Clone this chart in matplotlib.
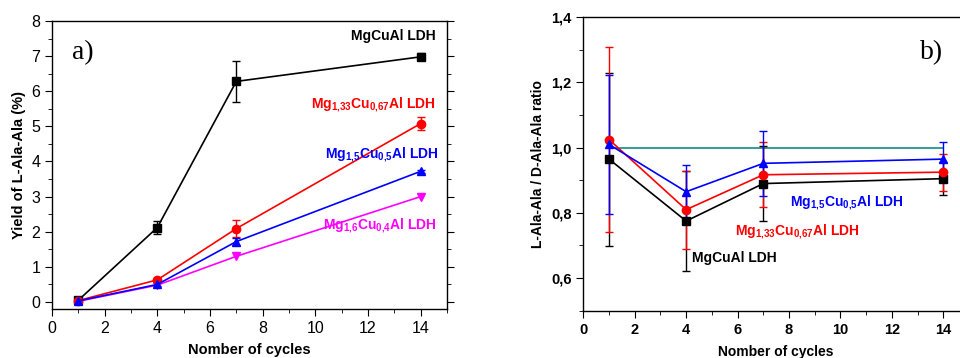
import matplotlib
matplotlib.use("Agg")
import matplotlib.pyplot as plt
from matplotlib.ticker import MultipleLocator, FuncFormatter

plt.rcParams['font.family'] = ['Liberation Sans', 'DejaVu Sans']
plt.rcParams['mathtext.fontset'] = 'custom'
plt.rcParams['mathtext.bf'] = 'Liberation Sans:bold'
plt.rcParams['mathtext.rm'] = 'Liberation Sans:bold'
plt.rcParams['mathtext.default'] = 'bf'

cycles = [1, 4, 7, 14]

# Panel a) yield (%)
yield_mgcual = [0.05, 2.12, 6.28, 6.98]
yield_mgcual_err = [0.05, 0.18, 0.58, 0.10]
yield_mg133 = [0.04, 0.63, 2.09, 5.08]
yield_mg133_err = [0.03, 0.05, 0.23, 0.18]
yield_mg15 = [0.03, 0.50, 1.72, 3.72]
yield_mg15_err = [0.03, 0.04, 0.10, 0.05]
yield_mg16 = [0.02, 0.48, 1.30, 3.00]

# Panel b) L/D ratio
ratio_mgcual = [0.965, 0.775, 0.890, 0.905]
ratio_mgcual_err = [0.265, 0.152, 0.115, 0.050]
ratio_mg133 = [1.025, 0.810, 0.917, 0.925]
ratio_mg133_err = [0.285, 0.120, 0.100, 0.057]
ratio_mg15 = [1.010, 0.865, 0.952, 0.965]
ratio_mg15_err = [0.213, 0.082, 0.100, 0.052]
ratio_ref_x = [1, 14]
ratio_ref = [1.0, 1.0]

lab_mgcual = "MgCuAl LDH"
lab_mg133 = r"Mg$_{1{,}33}$Cu$_{0{,}67}$Al LDH"
lab_mg15 = r"Mg$_{1{,}5}$Cu$_{0{,}5}$Al LDH"
lab_mg16 = r"Mg$_{1{,}6}$Cu$_{0{,}4}$Al LDH"

fig = plt.figure(figsize=(9.6, 3.58), dpi=100)
W, H = 960, 358
axa = fig.add_axes([52 / W, 1 - 309 / H, (447 - 52) / W, (309 - 21) / H])
axb = fig.add_axes([583.3 / W, 1 - 310.7 / H, (969 - 583.3) / W, (310.7 - 17.3) / H])

ekw = dict(capsize=3, elinewidth=1, capthick=1, lw=1.2, ms=6)

axa.errorbar(cycles, yield_mgcual, yerr=yield_mgcual_err, color='black', marker='s', ms=5.5, capsize=3, elinewidth=1, lw=1.2)
axa.errorbar(cycles, yield_mg133, yerr=yield_mg133_err, color='red', marker='o', **ekw)
axa.errorbar(cycles, yield_mg15, yerr=yield_mg15_err, color='blue', marker='^', **ekw)
axa.plot(cycles, yield_mg16, color='magenta', marker='v', lw=1.2, ms=6)

axa.set_xlim(0, 15)
axa.set_ylim(-0.2, 8)
axa.xaxis.set_major_locator(MultipleLocator(2))
axa.xaxis.set_minor_locator(MultipleLocator(1))
axa.yaxis.set_major_locator(MultipleLocator(1))
axa.yaxis.set_minor_locator(MultipleLocator(0.5))
axa.tick_params(which='both', direction='out', labelsize=11.5, top=False)
axa.tick_params(which='major', length=5)
axa.tick_params(which='minor', length=3)
axa.tick_params(axis='y', which='both', right=True)
axa.set_xlabel("Nomber of cycles", fontsize=10.5, fontweight='bold', labelpad=5)
axa.set_ylabel("Yield of L-Ala-Ala (%)", fontsize=10.5, fontweight='bold', labelpad=4)
axa.text(72 / W, 1 - 53 / H, "a)", transform=fig.transFigure, fontsize=20, family='Liberation Serif', va='center', ha='left')
axa.text(436 / W, 1 - 36 / H, lab_mgcual, transform=fig.transFigure, fontsize=10, fontweight='bold', color='black', ha='right', va='center')
axa.text(436 / W, 1 - 105 / H, lab_mg133, transform=fig.transFigure, fontsize=10, fontweight='bold', color='red', ha='right', va='center')
axa.text(439 / W, 1 - 155 / H, lab_mg15, transform=fig.transFigure, fontsize=10, fontweight='bold', color='blue', ha='right', va='center')
axa.text(437 / W, 1 - 226 / H, lab_mg16, transform=fig.transFigure, fontsize=10, fontweight='bold', color='magenta', ha='right', va='center')

axb.plot(ratio_ref_x, ratio_ref, color='#138a85', lw=1.2)
axb.errorbar(cycles, ratio_mgcual, yerr=ratio_mgcual_err, color='black', marker='s', ms=5.5, capsize=3, elinewidth=1, lw=1.2)
axb.errorbar(cycles, ratio_mg133, yerr=ratio_mg133_err, color='red', marker='o', **ekw)
axb.errorbar(cycles, ratio_mg15, yerr=ratio_mg15_err, color='blue', marker='^', **ekw)

axb.set_xlim(0, 15)
axb.set_ylim(0.5, 1.4)
axb.xaxis.set_major_locator(MultipleLocator(2))
axb.xaxis.set_minor_locator(MultipleLocator(1))
axb.yaxis.set_major_locator(MultipleLocator(0.2))
axb.yaxis.set_minor_locator(MultipleLocator(0.1))
axb.yaxis.set_major_formatter(FuncFormatter(lambda v, p: ("%.1f" % v).replace('.', ',')))
axb.tick_params(which='both', direction='out', labelsize=10.5, top=False)
axb.tick_params(which='major', length=5)
axb.tick_params(which='minor', length=3)
for lab in axb.get_xticklabels() + axb.get_yticklabels():
    lab.set_fontweight('bold')
axb.set_xlabel("Nomber of cycles", fontsize=10, fontweight='bold', labelpad=6)
axb.set_ylabel("L-Ala-Ala / D-Ala-Ala ratio", fontsize=10, fontweight='bold', labelpad=4)
axb.text(920 / W, 1 - 53 / H, "b)", transform=fig.transFigure, fontsize=20, family='Liberation Serif', va='center', ha='left')
axb.text(790 / W, 1 - 203 / H, lab_mg15, transform=fig.transFigure, fontsize=10, fontweight='bold', color='blue', ha='left', va='center')
axb.text(735 / W, 1 - 232 / H, lab_mg133, transform=fig.transFigure, fontsize=10, fontweight='bold', color='red', ha='left', va='center')
axb.text(692 / W, 1 - 258 / H, lab_mgcual, transform=fig.transFigure, fontsize=10, fontweight='bold', color='black', ha='left', va='center')

for ax in (axa, axb):
    for s in ax.spines.values():
        s.set_linewidth(1.0)

fig.savefig("out.png", dpi=100)
